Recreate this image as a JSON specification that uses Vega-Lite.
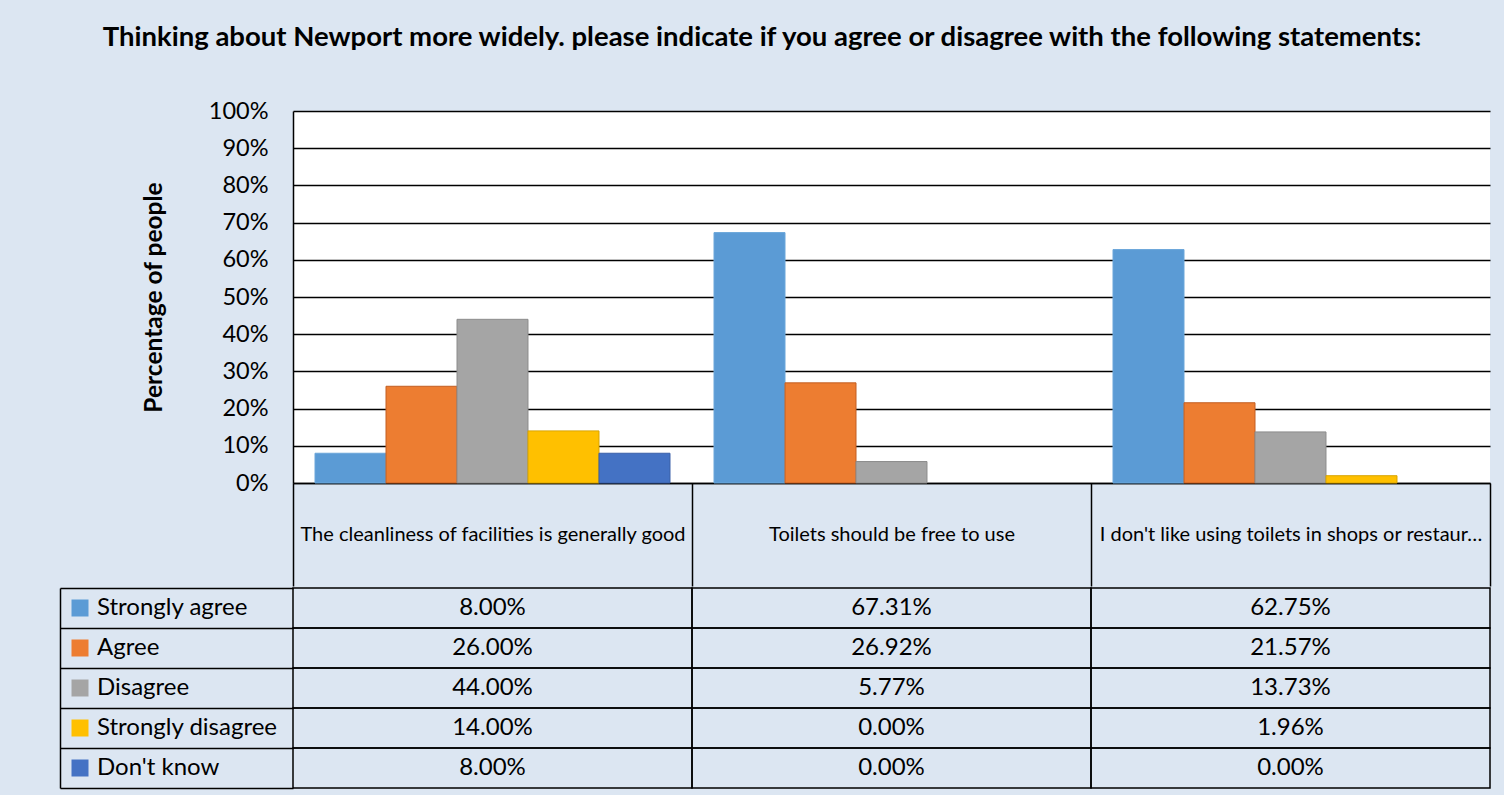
{
  "$schema": "https://vega.github.io/schema/vega-lite/v6.json",
  "background": "#DCE6F2",
  "padding": {"left": 59, "top": 23, "right": 14, "bottom": 10},
  "spacing": 0,
  "title": {
    "text": "Thinking about Newport more widely. please indicate if you agree or disagree with the following statements:",
    "fontSize": 27.5, "fontWeight": "bold", "font": "Lato", "color": "black", "anchor": "middle", "offset": 48, "dx": -13
  },
  "data": {"values": [
    {"category": "The cleanliness of facilities is generally good", "series": "Strongly agree", "value": 0.08},
    {"category": "The cleanliness of facilities is generally good", "series": "Agree", "value": 0.26},
    {"category": "The cleanliness of facilities is generally good", "series": "Disagree", "value": 0.44},
    {"category": "The cleanliness of facilities is generally good", "series": "Strongly disagree", "value": 0.14},
    {"category": "The cleanliness of facilities is generally good", "series": "Don't know", "value": 0.08},
    {"category": "Toilets should be free to use", "series": "Strongly agree", "value": 0.6731},
    {"category": "Toilets should be free to use", "series": "Agree", "value": 0.2692},
    {"category": "Toilets should be free to use", "series": "Disagree", "value": 0.0577},
    {"category": "Toilets should be free to use", "series": "Strongly disagree", "value": 0.0},
    {"category": "Toilets should be free to use", "series": "Don't know", "value": 0.0},
    {"category": "I don't like using toilets in shops or restaurants because I feel like I need to buy something", "series": "Strongly agree", "value": 0.6275},
    {"category": "I don't like using toilets in shops or restaurants because I feel like I need to buy something", "series": "Agree", "value": 0.2157},
    {"category": "I don't like using toilets in shops or restaurants because I feel like I need to buy something", "series": "Disagree", "value": 0.1373},
    {"category": "I don't like using toilets in shops or restaurants because I feel like I need to buy something", "series": "Strongly disagree", "value": 0.0196},
    {"category": "I don't like using toilets in shops or restaurants because I feel like I need to buy something", "series": "Don't know", "value": 0.0}
  ]},
  "resolve": {"scale": {"color": "independent"}, "legend": {"color": "independent"}},
  "vconcat": [
    {
      "width": 1197,
      "height": 372,
      "transform": [{"filter": "datum.value > 0"}],
      "mark": {"type": "bar", "strokeWidth": 1},
      "encoding": {
        "x": {
          "field": "category", "type": "nominal",
          "sort": ["The cleanliness of facilities is generally good", "Toilets should be free to use", "I don't like using toilets in shops or restaurants because I feel like I need to buy something"],
          "scale": {"paddingInner": 0, "paddingOuter": 0},
          "axis": {
            "title": null, "labelAngle": 0, "labelFontSize": 20, "labelColor": "black", "labelLimit": 390,
            "labelBaseline": "middle", "labelPadding": -51.5,
            "ticks": true, "tickBand": "extent", "tickSize": 103, "tickColor": "black", "tickWidth": 1.5,
            "domainColor": "black", "domainWidth": 1.5
          }
        },
        "xOffset": {
          "field": "series", "type": "nominal",
          "scale": {"domain": ["Strongly agree", "Agree", "Disagree", "Strongly disagree", "Don't know"], "paddingInner": 0, "paddingOuter": 0.31}
        },
        "y": {
          "field": "value", "type": "quantitative",
          "scale": {"domain": [0, 1]},
          "axis": {
            "values": [0, 0.1, 0.2, 0.3, 0.4, 0.5, 0.6, 0.7, 0.8, 0.9, 1],
            "format": ".0%", "title": "Percentage of people", "titleFontSize": 24.5, "titleFontWeight": "bold",
            "titleColor": "black", "titlePadding": 42,
            "labelFontSize": 23.5, "labelColor": "black", "labelPadding": 25, "ticks": false,
            "gridColor": "black", "gridWidth": 1.4, "gridOpacity": 1,
            "domainColor": "black", "domainWidth": 1.5
          }
        },
        "color": {
          "field": "series", "type": "nominal",
          "scale": {
            "domain": ["Strongly agree", "Agree", "Disagree", "Strongly disagree", "Don't know"],
            "range": ["#5B9BD5", "#ED7D31", "#A5A5A5", "#FFC000", "#4472C4"]
          },
          "legend": null
        },
        "stroke": {
          "field": "series", "type": "nominal",
          "scale": {
            "domain": ["Strongly agree", "Agree", "Disagree", "Strongly disagree", "Don't know"],
            "range": ["#6AA6DA", "#C25E22", "#8C8C8C", "#D9A400", "#3A60A8"]
          },
          "legend": null
        }
      }
    },
    {
      "width": 1197,
      "height": 200,
      "view": {"fill": null, "stroke": null},
      "encoding": {
        "x": {
          "field": "category", "type": "nominal",
          "sort": ["The cleanliness of facilities is generally good", "Toilets should be free to use", "I don't like using toilets in shops or restaurants because I feel like I need to buy something"],
          "scale": {"paddingInner": 0, "paddingOuter": 0},
          "axis": null
        },
        "y": {
          "field": "series", "type": "nominal",
          "sort": ["Strongly agree", "Agree", "Disagree", "Strongly disagree", "Don't know"],
          "scale": {"paddingInner": 0, "paddingOuter": 0},
          "axis": {
            "title": null, "labels": false, "offset": 233,
            "tickBand": "extent", "tickSize": -233, "tickColor": "black", "tickWidth": 1.5,
            "domainColor": "black", "domainWidth": 1.5
          }
        }
      },
      "layer": [
        {"mark": {"type": "rect", "filled": false, "color": "black", "strokeWidth": 1.5}},
        {
          "mark": {"type": "text", "fontSize": 24, "color": "black"},
          "encoding": {"text": {"field": "value", "type": "quantitative", "format": ".2%"}}
        },
        {
          "mark": {"type": "square", "opacity": 0, "size": 10},
          "encoding": {
            "color": {
              "field": "series", "type": "nominal",
              "scale": {
                "domain": ["Strongly agree", "Agree", "Disagree", "Strongly disagree", "Don't know"],
                "range": ["#5B9BD5", "#ED7D31", "#A5A5A5", "#FFC000", "#4472C4"]
              },
              "legend": {
                "orient": "none", "legendX": -225, "legendY": 0, "title": null,
                "symbolType": "square", "symbolSize": 289, "symbolStrokeWidth": 0, "symbolOpacity": 1,
                "labelFontSize": 24, "labelColor": "black", "labelOffset": 5, "labelLimit": 0,
                "clipHeight": 40, "rowPadding": 0, "padding": 0
              }
            }
          }
        }
      ]
    }
  ],
  "config": {
    "font": "Lato",
    "view": {"fill": "white", "stroke": null},
    "axis": {"labelFont": "Lato", "titleFont": "Lato"},
    "legend": {"labelFont": "Lato"},
    "text": {"font": "Lato"}
  }
}
